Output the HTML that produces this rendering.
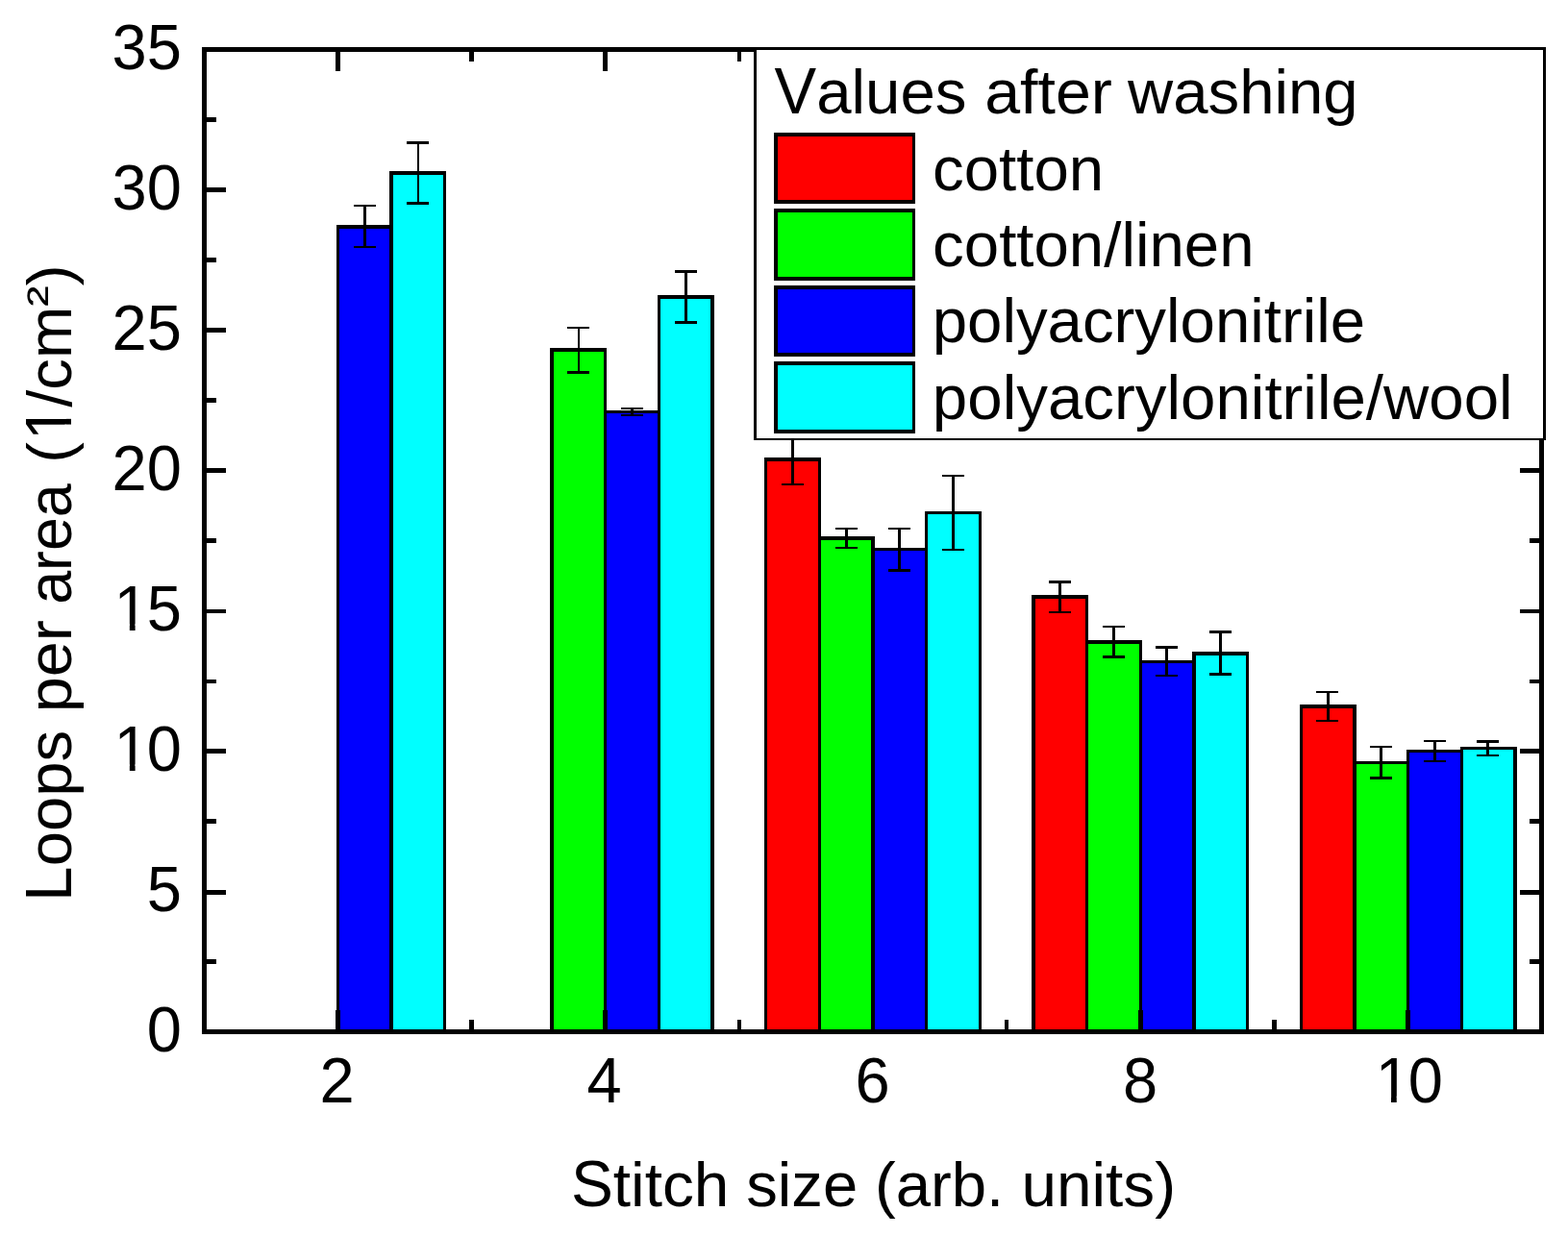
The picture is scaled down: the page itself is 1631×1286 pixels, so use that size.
<!DOCTYPE html>
<html lang="en">
<head>
<meta charset="utf-8">
<title>Loops per area vs. stitch size (values after washing)</title>
<style>
html,body{margin:0;padding:0;background:#ffffff;}
body{width:1631px;height:1286px;overflow:hidden;}
svg{display:block;}
text{font-family:"Liberation Sans",Arial,Helvetica,sans-serif;fill:#000000;font-kerning:none;white-space:pre;}
</style>
</head>
<body>
<svg width="1631" height="1286" viewBox="0 0 1631 1286">
<rect x="0" y="0" width="1631" height="1286" fill="#ffffff"/>
<g id="bars">
<rect x="350" y="234" width="59" height="840" fill="#000000"/>
<rect x="405" y="178" width="59" height="896" fill="#000000"/>
<rect x="353" y="238" width="52" height="833" fill="#0000ff"/>
<rect x="409" y="182" width="52" height="889" fill="#00ffff"/>
<rect x="572" y="362" width="59" height="712" fill="#000000"/>
<rect x="628" y="427" width="59" height="647" fill="#000000"/>
<rect x="684" y="307" width="59" height="767" fill="#000000"/>
<rect x="576" y="366" width="52" height="705" fill="#00ff00"/>
<rect x="631" y="430" width="53" height="641" fill="#0000ff"/>
<rect x="687" y="311" width="52" height="760" fill="#00ffff"/>
<rect x="795" y="476" width="59" height="598" fill="#000000"/>
<rect x="851" y="558" width="59" height="516" fill="#000000"/>
<rect x="906" y="570" width="59" height="504" fill="#000000"/>
<rect x="962" y="532" width="59" height="542" fill="#000000"/>
<rect x="798" y="480" width="53" height="591" fill="#ff0000"/>
<rect x="854" y="562" width="52" height="509" fill="#00ff00"/>
<rect x="910" y="573" width="52" height="498" fill="#0000ff"/>
<rect x="965" y="535" width="53" height="536" fill="#00ffff"/>
<rect x="1073" y="619" width="59" height="455" fill="#000000"/>
<rect x="1129" y="666" width="59" height="408" fill="#000000"/>
<rect x="1185" y="687" width="59" height="387" fill="#000000"/>
<rect x="1240" y="678" width="59" height="396" fill="#000000"/>
<rect x="1077" y="623" width="52" height="448" fill="#ff0000"/>
<rect x="1132" y="670" width="53" height="401" fill="#00ff00"/>
<rect x="1188" y="690" width="52" height="381" fill="#0000ff"/>
<rect x="1244" y="682" width="52" height="389" fill="#00ffff"/>
<rect x="1352" y="733" width="59" height="341" fill="#000000"/>
<rect x="1407" y="792" width="59" height="282" fill="#000000"/>
<rect x="1463" y="780" width="59" height="294" fill="#000000"/>
<rect x="1519" y="777" width="59" height="297" fill="#000000"/>
<rect x="1355" y="737" width="52" height="334" fill="#ff0000"/>
<rect x="1411" y="795" width="52" height="276" fill="#00ff00"/>
<rect x="1466" y="783" width="53" height="288" fill="#0000ff"/>
<rect x="1522" y="780" width="52" height="291" fill="#00ffff"/>
</g>
<g id="errorbars">
<rect x="378" y="213" width="3" height="45" fill="#000000"/>
<rect x="368" y="213" width="23" height="2" fill="#000000"/>
<rect x="368" y="256" width="23" height="2" fill="#000000"/>
<rect x="434" y="147" width="2" height="66" fill="#000000"/>
<rect x="423" y="147" width="23" height="3" fill="#000000"/>
<rect x="423" y="210" width="23" height="3" fill="#000000"/>
<rect x="601" y="340" width="2" height="49" fill="#000000"/>
<rect x="590" y="340" width="23" height="2" fill="#000000"/>
<rect x="590" y="386" width="23" height="3" fill="#000000"/>
<rect x="656" y="424" width="3" height="9" fill="#000000"/>
<rect x="646" y="424" width="23" height="2" fill="#000000"/>
<rect x="646" y="431" width="23" height="2" fill="#000000"/>
<rect x="712" y="281" width="3" height="56" fill="#000000"/>
<rect x="702" y="281" width="23" height="3" fill="#000000"/>
<rect x="702" y="334" width="23" height="3" fill="#000000"/>
<rect x="823" y="451" width="3" height="54" fill="#000000"/>
<rect x="813" y="451" width="23" height="2" fill="#000000"/>
<rect x="813" y="503" width="23" height="2" fill="#000000"/>
<rect x="879" y="549" width="3" height="22" fill="#000000"/>
<rect x="869" y="549" width="23" height="2" fill="#000000"/>
<rect x="869" y="569" width="23" height="2" fill="#000000"/>
<rect x="934" y="549" width="3" height="46" fill="#000000"/>
<rect x="924" y="549" width="23" height="2" fill="#000000"/>
<rect x="924" y="592" width="23" height="3" fill="#000000"/>
<rect x="990" y="494" width="3" height="79" fill="#000000"/>
<rect x="980" y="494" width="23" height="2" fill="#000000"/>
<rect x="980" y="571" width="23" height="2" fill="#000000"/>
<rect x="1101" y="604" width="3" height="34" fill="#000000"/>
<rect x="1091" y="604" width="23" height="3" fill="#000000"/>
<rect x="1091" y="636" width="23" height="2" fill="#000000"/>
<rect x="1157" y="651" width="3" height="34" fill="#000000"/>
<rect x="1147" y="651" width="23" height="2" fill="#000000"/>
<rect x="1147" y="682" width="23" height="3" fill="#000000"/>
<rect x="1212" y="672" width="3" height="32" fill="#000000"/>
<rect x="1202" y="672" width="23" height="3" fill="#000000"/>
<rect x="1202" y="702" width="23" height="2" fill="#000000"/>
<rect x="1268" y="656" width="3" height="47" fill="#000000"/>
<rect x="1258" y="656" width="23" height="3" fill="#000000"/>
<rect x="1258" y="700" width="23" height="3" fill="#000000"/>
<rect x="1380" y="719" width="3" height="32" fill="#000000"/>
<rect x="1369" y="719" width="23" height="2" fill="#000000"/>
<rect x="1369" y="749" width="23" height="2" fill="#000000"/>
<rect x="1435" y="776" width="3" height="35" fill="#000000"/>
<rect x="1425" y="776" width="23" height="2" fill="#000000"/>
<rect x="1425" y="808" width="23" height="3" fill="#000000"/>
<rect x="1491" y="770" width="3" height="23" fill="#000000"/>
<rect x="1481" y="770" width="23" height="2" fill="#000000"/>
<rect x="1481" y="791" width="23" height="2" fill="#000000"/>
<rect x="1546" y="770" width="3" height="17" fill="#000000"/>
<rect x="1536" y="770" width="23" height="3" fill="#000000"/>
<rect x="1536" y="785" width="23" height="2" fill="#000000"/>
</g>
<g id="ticks">
<rect x="215" y="122" width="10" height="5" fill="#000000"/>
<rect x="1591" y="122" width="10" height="5" fill="#000000"/>
<rect x="215" y="195" width="20" height="5" fill="#000000"/>
<rect x="1581" y="195" width="20" height="5" fill="#000000"/>
<rect x="215" y="268" width="10" height="5" fill="#000000"/>
<rect x="1591" y="268" width="10" height="5" fill="#000000"/>
<rect x="215" y="341" width="20" height="5" fill="#000000"/>
<rect x="1581" y="341" width="20" height="5" fill="#000000"/>
<rect x="215" y="414" width="10" height="5" fill="#000000"/>
<rect x="1591" y="414" width="10" height="5" fill="#000000"/>
<rect x="215" y="487" width="20" height="5" fill="#000000"/>
<rect x="1581" y="487" width="20" height="5" fill="#000000"/>
<rect x="215" y="560" width="10" height="5" fill="#000000"/>
<rect x="1591" y="560" width="10" height="5" fill="#000000"/>
<rect x="215" y="634" width="20" height="4" fill="#000000"/>
<rect x="1581" y="634" width="20" height="4" fill="#000000"/>
<rect x="215" y="707" width="10" height="4" fill="#000000"/>
<rect x="1591" y="707" width="10" height="4" fill="#000000"/>
<rect x="215" y="779" width="20" height="5" fill="#000000"/>
<rect x="1581" y="779" width="20" height="5" fill="#000000"/>
<rect x="215" y="852" width="10" height="5" fill="#000000"/>
<rect x="1591" y="852" width="10" height="5" fill="#000000"/>
<rect x="215" y="926" width="20" height="5" fill="#000000"/>
<rect x="1581" y="926" width="20" height="5" fill="#000000"/>
<rect x="215" y="998" width="10" height="5" fill="#000000"/>
<rect x="1591" y="998" width="10" height="5" fill="#000000"/>
<rect x="349" y="1051" width="5" height="20" fill="#000000"/>
<rect x="349" y="54" width="5" height="20" fill="#000000"/>
<rect x="488" y="1061" width="5" height="10" fill="#000000"/>
<rect x="488" y="54" width="5" height="10" fill="#000000"/>
<rect x="627" y="1051" width="5" height="20" fill="#000000"/>
<rect x="627" y="54" width="5" height="20" fill="#000000"/>
<rect x="767" y="1061" width="4" height="10" fill="#000000"/>
<rect x="767" y="54" width="4" height="10" fill="#000000"/>
<rect x="906" y="1051" width="4" height="20" fill="#000000"/>
<rect x="906" y="54" width="4" height="20" fill="#000000"/>
<rect x="1045" y="1061" width="4" height="10" fill="#000000"/>
<rect x="1045" y="54" width="4" height="10" fill="#000000"/>
<rect x="1184" y="1051" width="5" height="20" fill="#000000"/>
<rect x="1184" y="54" width="5" height="20" fill="#000000"/>
<rect x="1323" y="1061" width="5" height="10" fill="#000000"/>
<rect x="1323" y="54" width="5" height="10" fill="#000000"/>
<rect x="1462" y="1051" width="5" height="20" fill="#000000"/>
<rect x="1462" y="54" width="5" height="20" fill="#000000"/>
</g>
<g id="frame">
<rect x="210" y="49" width="1396" height="5" fill="#000000"/>
<rect x="210" y="1071" width="1396" height="5" fill="#000000"/>
<rect x="210" y="49" width="5" height="1027" fill="#000000"/>
<rect x="1601" y="49" width="5" height="1027" fill="#000000"/>
</g>
<g id="legend">
<rect x="784" y="49" width="824" height="409" fill="#000000"/>
<rect x="787" y="52" width="818" height="404" fill="#ffffff"/>
<rect x="805" y="138" width="147" height="74" fill="#000000"/>
<rect x="809" y="142" width="140" height="66" fill="#ff0000"/>
<rect x="805" y="217" width="147" height="75" fill="#000000"/>
<rect x="809" y="221" width="140" height="67" fill="#00ff00"/>
<rect x="805" y="297" width="147" height="74" fill="#000000"/>
<rect x="809" y="301" width="140" height="66" fill="#0000ff"/>
<rect x="805" y="376" width="147" height="75" fill="#000000"/>
<rect x="809" y="380" width="140" height="67" fill="#00ffff"/>
</g>
<g id="legend-text">
<text transform="matrix(1 0 0 1 0 118)" font-size="65.3"><tspan x="805.51" font-size="68.24" textLength="43.62" lengthAdjust="spacingAndGlyphs">V</tspan><tspan x="849.13" textLength="156.33" lengthAdjust="spacingAndGlyphs">alues</tspan> <tspan x="1024.18" textLength="132.72" lengthAdjust="spacingAndGlyphs">after</tspan> <tspan x="1173.10" textLength="239.51" lengthAdjust="spacingAndGlyphs">washing</tspan></text>
<text transform="matrix(1 0 0 1 0 198)" font-size="65.3"><tspan x="970.12" textLength="178.02" lengthAdjust="spacingAndGlyphs">cotton</tspan></text>
<text transform="matrix(1 0 0 1 0 277)" font-size="65.3"><tspan x="970.12" textLength="334.42" lengthAdjust="spacingAndGlyphs">cotton/linen</tspan></text>
<text transform="matrix(1 0 0 1 0 356)" font-size="65.3"><tspan x="969.69" textLength="450.42" lengthAdjust="spacingAndGlyphs">polyacrylonitrile</tspan></text>
<text transform="matrix(1 0 0 1 0 436)" font-size="65.3"><tspan x="969.88" textLength="603.69" lengthAdjust="spacingAndGlyphs">polyacrylonitrile/wool</tspan></text>
</g>
<g id="axis-titles">
<text transform="matrix(1 0 0 1 0 1254.7)" font-size="65.3"><tspan x="593.91" font-size="68.24" textLength="43.86" lengthAdjust="spacingAndGlyphs">S</tspan><tspan x="637.77" textLength="120.60" lengthAdjust="spacingAndGlyphs">titch</tspan> <tspan x="776.18" textLength="116.01" lengthAdjust="spacingAndGlyphs">size</tspan> <tspan x="910.05" textLength="134.21" lengthAdjust="spacingAndGlyphs">(arb.</tspan> <tspan x="1062.43" textLength="160.64" lengthAdjust="spacingAndGlyphs">units)</tspan></text>
<text transform="matrix(0 -1 1 0 73.8 0)" font-size="65.3"><tspan x="-937.65" font-size="68.24" textLength="36.30" lengthAdjust="spacingAndGlyphs">L</tspan><tspan x="-901.36" textLength="141.52" lengthAdjust="spacingAndGlyphs">oops</tspan> <tspan x="-741.19" textLength="96.09" lengthAdjust="spacingAndGlyphs">per</tspan> <tspan x="-628.87" textLength="125.57" lengthAdjust="spacingAndGlyphs">area</tspan> <tspan x="-481.64">(</tspan><tspan x="-457.96" font-size="68.24" textLength="36.20" lengthAdjust="spacingAndGlyphs">1</tspan><tspan x="-423.76" textLength="104.85" lengthAdjust="spacingAndGlyphs">/cm</tspan><tspan x="-318.91" dy="-9.75" font-size="52.24" textLength="21.68" lengthAdjust="spacingAndGlyphs">²</tspan><tspan x="-297.24" dy="9.75">)</tspan></text>
<g transform="matrix(0 -1 1 0 73.8 0)" fill="#ffffff"><rect x="-454.60" y="-6.30" width="13.01" height="7.50"/><rect x="-435.84" y="-6.30" width="12.00" height="7.50"/></g>
</g>
<g id="tick-labels">
<text transform="matrix(1 0 0 1.03 0 1147)" font-size="65"><tspan x="332.53">2</tspan></text>
<text transform="matrix(1 0 0 1.03 0 1147)" font-size="65"><tspan x="610.53">4</tspan></text>
<text transform="matrix(1 0 0 1.03 0 1147)" font-size="65"><tspan x="889.53">6</tspan></text>
<text transform="matrix(1 0 0 1.03 0 1147)" font-size="65"><tspan x="1167.93">8</tspan></text>
<text transform="matrix(1 0 0 1.03 0 1147)" font-size="65"><tspan x="1430.65">1</tspan><tspan x="1464.80">0</tspan></text>
<g transform="matrix(1 0 0 1.03 0 1147)" fill="#ffffff"><rect x="1434.00" y="-6.27" width="12.99" height="7.47"/><rect x="1452.74" y="-6.27" width="11.99" height="7.47"/></g>
<text transform="matrix(1 0 0 1.03 0 1093.7)" font-size="65"><tspan x="152.65">0</tspan></text>
<text transform="matrix(1 0 0 1.03 0 947.7)" font-size="65"><tspan x="152.65">5</tspan></text>
<text transform="matrix(1 0 0 1.03 0 801.7)" font-size="65"><tspan x="118.50">1</tspan><tspan x="152.65">0</tspan></text>
<g transform="matrix(1 0 0 1.03 0 801.7)" fill="#ffffff"><rect x="121.85" y="-6.27" width="12.99" height="7.47"/><rect x="140.59" y="-6.27" width="11.99" height="7.47"/></g>
<text transform="matrix(1 0 0 1.03 0 655.7)" font-size="65"><tspan x="118.50">1</tspan><tspan x="152.65">5</tspan></text>
<g transform="matrix(1 0 0 1.03 0 655.7)" fill="#ffffff"><rect x="121.85" y="-6.27" width="12.99" height="7.47"/><rect x="140.59" y="-6.27" width="11.99" height="7.47"/></g>
<text transform="matrix(1 0 0 1.03 0 509.7)" font-size="65"><tspan x="116.50" textLength="72.30" lengthAdjust="spacingAndGlyphs">20</tspan></text>
<text transform="matrix(1 0 0 1.03 0 363.7)" font-size="65"><tspan x="116.50" textLength="72.30" lengthAdjust="spacingAndGlyphs">25</tspan></text>
<text transform="matrix(1 0 0 1.03 0 217.7)" font-size="65"><tspan x="116.50" textLength="72.30" lengthAdjust="spacingAndGlyphs">30</tspan></text>
<text transform="matrix(1 0 0 1.03 0 71.7)" font-size="65"><tspan x="116.50" textLength="72.30" lengthAdjust="spacingAndGlyphs">35</tspan></text>
</g>
</svg>
</body>
</html>
